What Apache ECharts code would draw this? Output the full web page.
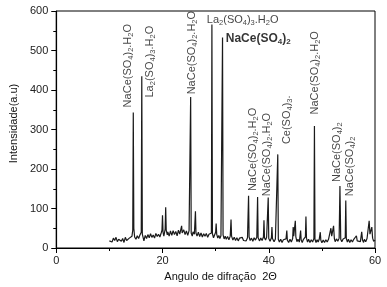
<!DOCTYPE html>
<html>
<head>
<meta charset="utf-8">
<script src="https://cdn.jsdelivr.net/npm/echarts@6/dist/echarts.min.js"></script>
<style>
html,body{margin:0;padding:0;background:#fff;}
#chart{width:387px;height:287px;}
</style>
</head>
<body>
<div id="chart"></div>
<script>
// XRD pattern: [2theta, intensity]
const pattern = [
[10.00,18],[10.25,23],[10.50,15],[10.75,25],[11.00,19],[11.25,27],[11.50,16],[11.75,22],[12.00,26],[12.25,17],
[12.50,24],[12.75,14],[13.00,27],[13.25,19],[13.50,17],[13.75,25],[14.00,21],[14.25,30],[14.40,45],[14.50,343],
[14.60,50],[14.75,28],[15.00,22],[15.25,31],[15.50,24],[15.75,33],[16.00,40],[16.10,435],[16.20,35],[16.50,18],
[16.75,32],[17.00,24],[17.25,34],[17.50,26],[17.75,36],[18.00,27],[18.25,33],[18.50,25],[18.75,37],[19.00,29],
[19.25,35],[19.50,28],[19.75,38],[19.90,45],[20.00,83],[20.10,40],[20.25,30],[20.50,48],[20.60,103],[20.70,45],
[20.90,33],[21.00,41],[21.25,30],[21.50,43],[21.75,32],[22.00,44],[22.25,34],[22.50,42],[22.75,31],[23.00,45],
[23.25,35],[23.50,40],[23.60,56],[23.70,38],[23.90,33],[24.00,46],[24.25,34],[24.50,43],[24.75,32],[25.00,44],
[25.20,40],[25.30,382],[25.40,38],[25.60,30],[25.75,41],[26.00,35],[26.20,93],[26.30,38],[26.50,30],[26.75,40],
[27.00,29],[27.25,38],[27.50,28],[27.75,36],[28.00,30],[28.25,37],[28.50,27],[28.75,35],[29.00,30],[29.20,38],
[29.30,566],[29.40,36],[29.60,26],[29.80,33],[30.00,40],[30.10,62],[30.20,35],[30.40,25],[30.60,32],[30.80,24],
[31.00,31],[31.20,35],[31.30,533],[31.40,33],[31.60,23],[31.80,30],[32.00,22],[32.25,29],[32.50,21],[32.75,30],
[32.90,72],[33.00,30],[33.25,20],[33.50,27],[33.75,19],[34.00,26],[34.25,18],[34.50,25],[34.75,20],[35.00,27],
[35.25,19],[35.50,24],[35.75,18],[36.00,26],[36.10,30],[36.20,132],[36.30,28],[36.50,19],[36.75,25],[37.00,17],
[37.25,26],[37.50,20],[37.75,27],[37.90,129],[38.00,26],[38.25,18],[38.50,25],[38.75,19],[39.00,28],[39.10,70],
[39.20,26],[39.40,20],[39.60,27],[39.80,25],[39.90,128],[40.00,24],[40.25,17],[40.50,26],[40.60,53],[40.70,24],
[41.00,16],[41.25,23],[41.50,18],[41.60,25],[41.70,237],[41.80,22],[42.00,15],[42.25,22],[42.50,14],[42.75,21],
[43.00,16],[43.25,23],[43.40,44],[43.50,20],[43.75,14],[44.00,22],[44.25,15],[44.50,24],[44.60,53],[44.70,30],
[44.90,33],[45.00,69],[45.10,28],[45.30,16],[45.50,22],[45.75,15],[46.00,44],[46.10,20],[46.30,14],[46.50,21],
[46.75,16],[46.90,28],[47.00,80],[47.10,25],[47.30,15],[47.50,22],[47.75,14],[48.00,21],[48.25,15],[48.50,24],
[48.60,309],[48.70,22],[48.90,14],[49.10,21],[49.30,15],[49.50,22],[49.70,40],[49.80,20],[50.00,13],[50.25,20],
[50.50,14],[50.75,21],[51.00,15],[51.25,22],[51.50,18],[51.70,50],[51.85,30],[52.00,28],[52.20,56],[52.35,24],
[52.50,16],[52.75,23],[53.00,17],[53.25,25],[53.40,157],[53.55,22],[53.75,16],[54.00,23],[54.25,18],[54.40,26],
[54.50,120],[54.60,24],[54.80,15],[55.00,22],[55.25,14],[55.50,21],[55.75,15],[56.00,22],[56.25,17],[56.50,31],
[56.65,18],[56.85,14],[57.00,21],[57.25,16],[57.50,41],[57.65,20],[57.85,14],[58.00,22],[58.25,16],[58.50,24],
[58.75,28],[58.90,69],[59.05,35],[59.20,30],[59.40,53],[59.55,25],[59.75,17],[60.00,20]
];

// Peak annotations (digits are drawn as subscripts)
const labelText = [
  'NaCe(SO4)2.H2O', 'La2(SO4)3.H2O', 'NaCe(SO4)2.H2O', 'La2(SO4)3.H2O', 'NaCe(SO4)2',
  'NaCe(SO4)2.H2O', 'NaCe(SO4)2.H2O', 'Ce(SO4)3.', 'NaCe(SO4)2.H2O', 'NaCe(SO4)2', 'NaCe(SO4)2'
];
const labelAngle  = [13.55, 17.68, 25.55, 28.34, 31.90, 37.11, 39.74, 43.39, 48.75, 52.76, 55.29];
const labelHeight = [356, 381, 389, 578, 531, 144, 131, 263, 338, 167, 131];
const labelRotated = [true, true, true, false, false, true, true, true, true, true, true];
const labelBold    = [false, false, false, false, true, false, false, false, false, false, false];

const xTicks = [0, 20, 40, 60];
const yTicks = [0, 100, 200, 300, 400, 500, 600];

const FONT = '"Liberation Sans", Arial, sans-serif';

function toRich(text, bold) {
  const n = bold ? 'b' : 'n';
  const s = bold ? 'bs' : 's';
  return text.replace(/(\d)|([^\d]+)/g, function (m, d, t) {
    return d ? '{' + s + '|' + d + '}' : '{' + n + '|' + t + '}';
  });
}

const labelData = labelText.map(function (t, i) {
  return {
    name: toRich(t, labelBold[i]),
    value: [labelAngle[i], labelHeight[i]],
    label: {
      rotate: labelRotated[i] ? 90 : 0,
      align: 'left',
      verticalAlign: 'middle'
    }
  };
});

const chart = echarts.init(document.getElementById('chart'), null, {renderer: 'canvas'});
chart.setOption({
  animation: false,
  backgroundColor: '#fff',
  grid: {left: 56, right: 12, top: 11, bottom: 38, show: true, borderColor: '#000', borderWidth: 1},
  xAxis: {
    type: 'value', min: xTicks[0], max: xTicks[xTicks.length - 1], interval: 20,
    name: 'Angulo de difração  2Θ', nameLocation: 'middle', nameGap: 23,
    nameTextStyle: {fontFamily: FONT, fontSize: 11, color: '#111', padding: [0, 0, 0, 10]},
    axisLine: {show: true, onZero: false, lineStyle: {color: '#000', width: 1.2}},
    axisTick: {show: true, inside: false, length: 5, lineStyle: {color: '#000'}},
    minorTick: {show: true, splitNumber: 2, length: 3, lineStyle: {color: '#000'}},
    axisLabel: {fontFamily: FONT, fontSize: 11, color: '#222', margin: 7},
    splitLine: {show: false}
  },
  yAxis: {
    type: 'value', min: yTicks[0], max: yTicks[yTicks.length - 1], interval: 100,
    name: 'Intensidade(a.u)', nameLocation: 'middle', nameGap: 31,
    nameTextStyle: {fontFamily: FONT, fontSize: 11, color: '#111', padding: [0, 0, 0, 12]},
    axisLine: {show: true, onZero: false, lineStyle: {color: '#000', width: 1.2}},
    axisTick: {show: true, inside: false, length: 5, lineStyle: {color: '#000'}},
    minorTick: {show: true, splitNumber: 2, length: 3, lineStyle: {color: '#000'}},
    axisLabel: {fontFamily: FONT, fontSize: 11, color: '#222', margin: 8},
    splitLine: {show: false}
  },
  series: [
    {
      type: 'line', data: pattern, showSymbol: false, silent: true,
      lineStyle: {color: '#1a1a1a', width: 1.2}
    },
    {
      type: 'scatter', data: labelData, symbolSize: 1, silent: true,
      itemStyle: {color: 'rgba(0,0,0,0)'},
      label: {
        show: true, position: 'inside', formatter: '{b}',
        fontFamily: FONT, fontSize: 11, color: '#111',
        rich: {
          n: {fontFamily: FONT, fontSize: 11, color: '#111', lineHeight: 14, verticalAlign: 'middle'},
          s: {fontFamily: FONT, fontSize: 7.5, color: '#111', lineHeight: 14, verticalAlign: 'bottom'},
          b: {fontFamily: FONT, fontSize: 12, fontWeight: 'bold', color: '#000', lineHeight: 15, verticalAlign: 'middle'},
          bs: {fontFamily: FONT, fontSize: 8, fontWeight: 'bold', color: '#000', lineHeight: 15, verticalAlign: 'bottom'}
        }
      },
      z: 5
    }
  ]
});
</script>
</body>
</html>
